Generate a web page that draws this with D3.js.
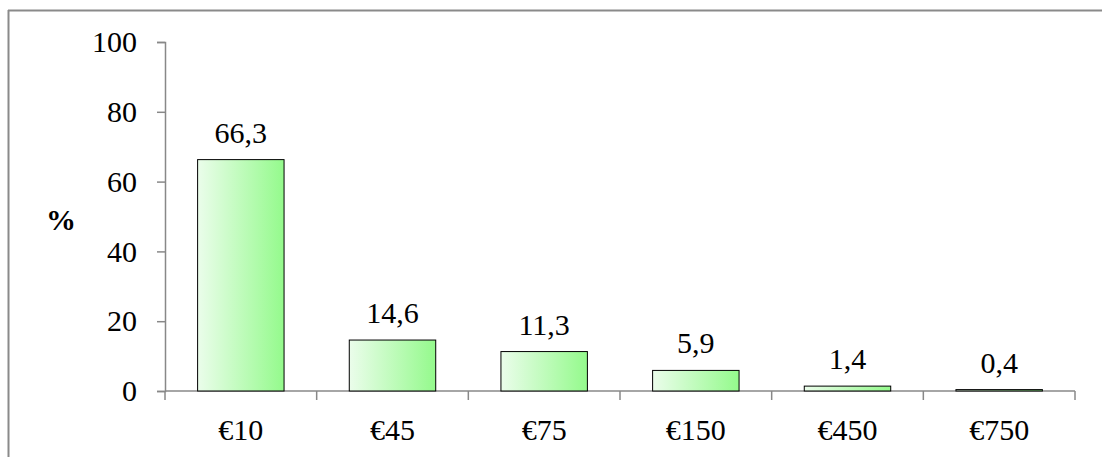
<!DOCTYPE html>
<html>
<head>
<meta charset="utf-8">
<script src="https://cdn.jsdelivr.net/npm/d3@7"></script>
<style>
  body { margin: 0; background: #fff; }
</style>
</head>
<body>
<svg id="chart" width="1102" height="457"></svg>
<script>
var categories = ["€10", "€45", "€75", "€150", "€450", "€750"];
var values = [66.3, 14.6, 11.3, 5.9, 1.4, 0.4];
var yTicks = [0, 20, 40, 60, 80, 100];

var FONT = "'Liberation Serif', 'Times New Roman', Times, serif";
var FS = "30px";

var svg = d3.select("#chart");

// gradient for bars, light on the left
var grad = svg.append("defs").append("linearGradient")
    .attr("id", "barGrad")
    .attr("x1", "0%").attr("x2", "100%").attr("y1", "0%").attr("y2", "0%");
grad.append("stop").attr("offset", "0%").attr("stop-color", "#ebfdeb");
grad.append("stop").attr("offset", "100%").attr("stop-color", "#94fa8c");

// outer frame (top and left edges only show)
svg.append("line").attr("x1", 8).attr("y1", 10.5).attr("x2", 1102).attr("y2", 10.5)
    .attr("stroke", "#8a8a8a").attr("stroke-width", 2);
svg.append("line").attr("x1", 8.5).attr("y1", 10).attr("x2", 8.5).attr("y2", 457)
    .attr("stroke", "#8a8a8a").attr("stroke-width", 2);

var x = d3.scaleBand().domain(categories).range([165, 1075]).paddingInner(0.43).paddingOuter(0.215);
var y = d3.scaleLinear().domain([0, 100]).range([391, 42]);

// y axis
var yAxis = svg.append("g").attr("transform", "translate(165,0)")
    .call(d3.axisLeft(y).tickValues(yTicks).tickSize(8).tickPadding(20));
yAxis.attr("font-family", null).attr("font-size", null);
yAxis.select(".domain").attr("stroke", "#888").attr("stroke-width", 1.5);
yAxis.selectAll(".tick line").attr("stroke", "#888").attr("stroke-width", 1.5);
yAxis.selectAll(".tick text")
    .attr("fill", "#000")
    .style("font-family", FONT)
    .style("font-size", FS);

// x axis: ticks at category boundaries
var xEdges = categories.map(function(c) { return x(c) - x.step() * x.paddingInner() / 2; });
xEdges.push(1075);
var xAxis = svg.append("g").attr("class", "xaxis");
xAxis.append("line").attr("x1", 165).attr("x2", 1075).attr("y1", y(0)).attr("y2", y(0))
    .attr("stroke", "#888").attr("stroke-width", 1.5);
xAxis.selectAll(".xt").data(xEdges).enter().append("line")
    .attr("x1", function(d) { return d; }).attr("x2", function(d) { return d; })
    .attr("y1", y(0)).attr("y2", y(0) + 9)
    .attr("stroke", "#888").attr("stroke-width", 1.5);
xAxis.selectAll(".xl").data(categories).enter().append("text")
    .attr("x", function(d) { return x(d) + x.bandwidth() / 2; })
    .attr("y", 440)
    .attr("text-anchor", "middle")
    .style("font-family", FONT)
    .style("font-size", FS)
    .text(function(d) { return d; });

// bars
svg.selectAll(".bar").data(values).enter().append("rect")
    .attr("x", function(d, i) { return x(categories[i]); })
    .attr("y", function(d) { return y(d); })
    .attr("width", x.bandwidth())
    .attr("height", function(d) { return y(0) - y(d); })
    .attr("fill", "url(#barGrad)")
    .attr("stroke", "#000").attr("stroke-width", 1);

// value labels
svg.selectAll(".val").data(values).enter().append("text")
    .attr("x", function(d, i) { return x(categories[i]) + x.bandwidth() / 2; })
    .attr("y", function(d) { return y(d) - 17; })
    .attr("text-anchor", "middle")
    .style("font-family", FONT)
    .style("font-size", FS)
    .text(function(d) { return d.toFixed(1).replace(".", ","); });

// y title
svg.append("text").attr("x", 61).attr("y", 230).attr("text-anchor", "middle")
    .style("font-family", FONT)
    .style("font-size", FS).style("font-weight", "bold").text("%");
</script>
</body>
</html>
